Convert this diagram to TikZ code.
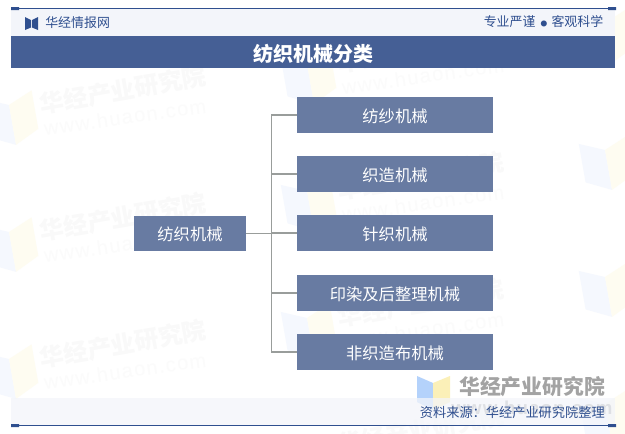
\documentclass[tikz,border=0pt]{standalone}
\usepackage{fontspec}
\setmainfont{Noto Sans CJK SC}
\newfontfamily\latinfont{Liberation Sans}
\newfontfamily\wwwfont[LetterSpace=7]{Liberation Sans}
\newfontfamily\wwwbold[LetterSpace=6]{Liberation Sans}
\definecolor{bandblue}{HTML}{455F95}
\definecolor{boxblue}{HTML}{687BA2}
\definecolor{lightband}{HTML}{F3F5FA}
\definecolor{navy}{HTML}{2F4F8F}
\definecolor{wmgray}{HTML}{F9F9F9}
\definecolor{wmurlgray}{HTML}{FBFBFB}
\definecolor{wmblue}{HTML}{F5F8FE}
\definecolor{wmyellow}{HTML}{FEFCF1}
\definecolor{linegray}{HTML}{999D9B}
\definecolor{bigblue}{HTML}{B4D2FB}
\definecolor{bigyellow}{HTML}{FBF0B8}
\definecolor{biggray}{HTML}{A3A3A3}
\tikzset{
  catbox/.style={fill=boxblue,text=white,minimum width=196\pxu,minimum height=36\pxu,inner sep=0pt,text height=11.5pt,text depth=0.5pt,font=\fontsize{12.2}{14}\selectfont},
  conn/.style={draw=linegray,line width=0.8pt},
  wmtext/.style={text=wmgray,font=\fontsize{18}{20}\selectfont\bfseries,rotate=10,inner sep=0pt},
  wmurl/.style={text=wmurlgray,font=\fontsize{15}{17}\selectfont\wwwfont,rotate=8,inner sep=0pt},
  headtext/.style={text=navy,inner sep=0pt,font=\fontsize{9.7}{12}\selectfont},
}
\newdimen\pxu \pxu=0.75pt
\newcommand{\wmmark}[2]{%
  \begin{scope}[shift={(#1,#2)},rotate=10,scale=1.5]
    \fill[wmblue] (-16.5,-7) -- (0,0) -- (0,27) -- (-16.5,19) -- cycle;
    \fill[wmyellow] (16.5,-7) -- (0,0) -- (0,27) -- (16.5,19) -- cycle;
  \end{scope}}
\begin{document}
\begin{tikzpicture}[x=0.75pt,y=-0.75pt]
\useasboundingbox (0,0) rectangle (625,433);
\fill[white] (0,0) rectangle (625,433);
% watermarks
\foreach \yy in {90,217,344}{
  \node[wmtext] (wma\yy) at (123,\yy) {华经产业研究院};
  \node[wmurl] (wmb\yy) at (125,\yy+27) {www.huaon.com};
}
\foreach \yy in {49,176,303,430}{
  \node[wmtext] (wmc\yy) at (421,\yy) {华经产业研究院};
  \node[wmurl] (wmd\yy) at (423,\yy+27) {www.huaon.com};
}
\foreach \yy in {105,232,359}{\wmmark{9}{\yy}}
\foreach \yy in {64,191,318}{\wmmark{307}{\yy}}
\foreach \yy in {23,150,277,404}{\wmmark{605}{\yy}}
% big bottom-right mark
\fill[bigblue] (417,376) -- (433,383) -- (433,410) -- (417,402) -- cycle;
\fill[bigyellow] (450,376) -- (433,383) -- (433,410) -- (450,402) -- cycle;
\node[text=biggray,inner sep=0pt,font=\fontsize{15.6}{18}\selectfont\bfseries] (bigcn) at (532,387) {华经产业研究院};
\node[text=biggray,inner sep=0pt,font=\fontsize{14}{16}\selectfont\bfseries\wwwbold] (bigurl) at (532,408) {www.huaon.com};
% header and footer bands
\fill[lightband] (11,9) rectangle (615,36);
\fill[bandblue] (11,36) rectangle (615,68);
\fill[lightband,opacity=0.75] (11,398) rectangle (615,425);
\draw[navy,line width=0.8pt] (11,8.2) -- (616,8.2);
\draw[navy,line width=0.8pt] (11,425.3) -- (616,425.3);
\fill[navy] (11,7) rectangle (19,10) (608,7) rectangle (616,10);
\fill[navy] (11,424) rectangle (19,427) (608,424) rectangle (616,427);
% header icon
\fill[navy] (25,17) -- (31,20) -- (31,27.5) -- (25,30) -- cycle;
\fill[navy] (38,17) -- (32,20) -- (32,27.5) -- (38,30) -- cycle;
\node[headtext,anchor=west] (brand) at (45,23) {华经情报网};
\node[headtext,anchor=east] (motto) at (603.5,22) {专业严谨\hspace{3.8pt}{\fontsize{5}{5}\selectfont ●}\hspace{3.2pt}客观科学};
\node[text=white,inner sep=0pt,font=\fontsize{15}{18}\selectfont\bfseries] (title) at (313.5,54) {纺织机械分类};
\node[text=navy,inner sep=0pt,anchor=east,font=\fontsize{9.9}{12}\selectfont] (source) at (605,412) {资料来源：华经产业研究院整理};
% boxes
\node[catbox,minimum width=112\pxu,minimum height=35\pxu] (root) at (190,233.5) {纺织机械};
\node[catbox] (c1) at (395,115) {纺纱机械};
\node[catbox] (c2) at (395,174) {织造机械};
\node[catbox] (c3) at (395,233) {针织机械};
\node[catbox] (c4) at (395,293) {印染及后整理机械};
\node[catbox] (c5) at (395,352) {非织造布机械};
% connectors
\draw[conn] (root.east) -- ++(25.5,0) coordinate (trunk);
\foreach \c in {c1,c2,c3,c4,c5}{\draw[conn] (trunk) |- (\c.west);}
\end{tikzpicture}
\end{document}
